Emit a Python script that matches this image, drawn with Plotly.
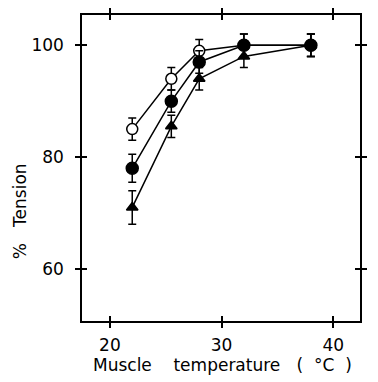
import plotly.graph_objects as go

temps = [22, 25.5, 28, 32, 38]
open_circle = [85, 94, 99, 100, 100]
open_err = [2, 2, 2, 2, 2]
filled_circle = [78, 90, 97, 100, 100]
filled_err = [2.5, 2, 2, 2, 2]
triangle = [71, 85.5, 94, 98, 100]
tri_err = [3, 2, 2, 2, 2]

x_ticks = [20, 30, 40]
y_ticks = [60, 80, 100]
x_range = [17.5, 42.4]
y_range = [50.7, 105.4]

fig = go.Figure()

def add(y, err, symbol, fill, size):
    fig.add_trace(go.Scatter(
        x=temps, y=y, mode="lines+markers",
        line=dict(color="black", width=1.5),
        marker=dict(symbol=symbol, size=size, color=fill,
                    line=dict(color="black", width=1.5)),
        error_y=dict(type="data", array=err, visible=True,
                     color="black", thickness=1.5, width=4),
        showlegend=False, cliponaxis=False))

add(open_circle, open_err, "circle", "white", 11)
add(triangle, tri_err, "triangle-up", "black", 10)
add(filled_circle, filled_err, "circle", "black", 12)

font = dict(family="DejaVu Sans", size=17, color="black")
axis_common = dict(showgrid=False, zeroline=False, linecolor="black",
                   linewidth=1.5, tickcolor="black", tickwidth=1.5,
                   ticklen=5, showline=True, automargin=False)

fig.update_layout(
    width=378, height=382,
    margin=dict(l=82, r=18, t=15, b=61),
    paper_bgcolor="white", plot_bgcolor="white",
    font=font,
    xaxis=dict(range=x_range, tickvals=x_ticks, ticks="outside",
               mirror="ticks", tickfont=font, ticklabelstandoff=3,
               **axis_common),
    yaxis=dict(range=y_range, tickvals=y_ticks, ticks="outside",
               mirror="ticks", tickfont=font, ticklabelstandoff=8,
               **axis_common),
    xaxis2=dict(range=x_range, tickvals=x_ticks, ticks="inside",
                mirror="ticks", overlaying="x", showticklabels=False,
                **axis_common),
    yaxis2=dict(range=y_range, tickvals=y_ticks, ticks="inside",
                mirror="ticks", overlaying="y", showticklabels=False,
                **axis_common),
)
# dummy trace to activate the overlay axes
fig.add_trace(go.Scatter(x=[None], y=[None], xaxis="x2", yaxis="y2",
                         showlegend=False, hoverinfo="skip"))

fig.add_annotation(text="Muscle    temperature   (  °C  )", xref="paper",
                   yref="paper", x=0.507, y=-0.143, yanchor="middle",
                   showarrow=False, font=font)
fig.add_annotation(text="%   Tension", xref="paper", yref="paper",
                   x=-0.225, y=0.36, textangle=-90, xanchor="center",
                   yanchor="middle", showarrow=False, font=font)

fig.write_html("out.html", config={"displayModeBar": False},
               post_script="document.body.style.margin='0px';")
